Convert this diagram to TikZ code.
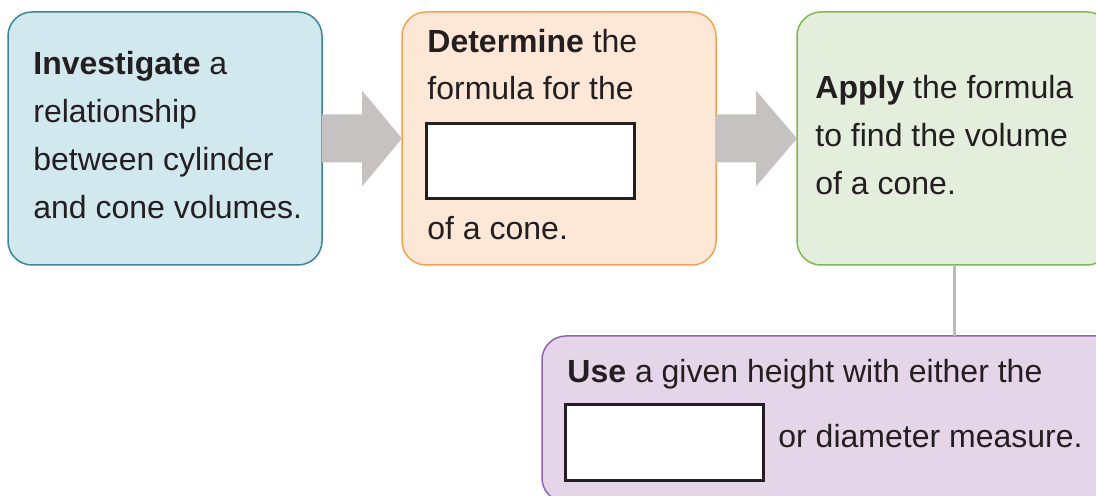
\documentclass[tikz,border=0pt]{standalone}
\usepackage{fontspec}
\setmainfont{Liberation Sans}
\usepackage{tikz}
\usepackage{xcolor}
\usetikzlibrary{calc}
\usetikzlibrary{positioning}

\definecolor{invfill}{HTML}{D1E8EF}
\definecolor{invline}{HTML}{3B8595}
\definecolor{detfill}{HTML}{FDE7D6}
\definecolor{detline}{HTML}{F7A24B}
\definecolor{appfill}{HTML}{E4EEDC}
\definecolor{appline}{HTML}{80B74F}
\definecolor{usefill}{HTML}{E5D5E9}
\definecolor{useline}{HTML}{9463B0}
\definecolor{arrowgray}{HTML}{C5C2C1}
\definecolor{linegray}{HTML}{BDBABB}
\definecolor{textgray}{HTML}{231F20}

\begin{document}
\begin{tikzpicture}[x=0.5pt, y=0.5pt,
    stagebox/.style={draw, line width=0.75pt, rounded corners=12pt,
      minimum width=157pt, minimum height=126.5pt, inner sep=0pt, outer sep=0pt},
    blank/.style={draw=textgray, fill=white, line width=1.5pt, inner sep=0pt},
    txt/.style={anchor=base west, inner sep=0pt, text=textgray,
      font=\fontsize{16}{24}\selectfont},
    blockarrow/.style={fill=arrowgray},
    link/.style={draw=linegray, line width=1.5pt}]
  \useasboundingbox (0,0) rectangle (1096,496);

  % the three stages
  \node[stagebox, draw=invline, fill=invfill] (inv) at (165,357.5) {};
  \node[stagebox, draw=detline, fill=detfill] (det) at (559,357.5) {};
  \node[stagebox, draw=appline, fill=appfill] (app) at (954,357.5) {};

  % last step, below
  \node[stagebox, draw=useline, fill=usefill, minimum width=412pt,
    minimum height=83pt] (use) at (954,77) {};

  \draw[link] (app.south) -- (use.north);

  \foreach \a/\b in {inv/det, det/app}
    \fill[blockarrow] ($(\a.east)+(0,24)$) -- ($(\a.east)+(40,24)$)
      -- ($(\a.east)+(40,48)$) -- (\b.west) -- ($(\a.east)+(40,-48)$)
      -- ($(\a.east)+(40,-24)$) -- ($(\a.east)+(0,-24)$) -- cycle;

  % texts
  \foreach \t [count=\i] in {{\textbf{Investigate} a}, relationship,
      between cylinder, and cone volumes.}
    \node[txt] (inv-\i) at (33, 469-48*\i) {\t};

  \node[txt] (det-1) at (427,443) {\textbf{Determine} the};
  \node[txt] (det-2) at (427,396) {formula for the};
  \node[blank, minimum width=104pt, minimum height=37.5pt] (det-blank) at (530,334.5) {};
  \node[txt] (det-3) at (427,256) {of a cone.};

  \foreach \t [count=\i] in {{\textbf{Apply} the formula}, to find the volume,
      of a cone.}
    \node[txt] (app-\i) at (815, 445-48*\i) {\t};

  \node[txt] (use-1) at (567,113) {\textbf{Use} a given height with either the};
  \node[blank, minimum width=99pt, minimum height=38pt] (use-blank) at (664,53) {};
  \node[txt] (use-2) at (778,48) {or diameter measure.};
\end{tikzpicture}
\end{document}
